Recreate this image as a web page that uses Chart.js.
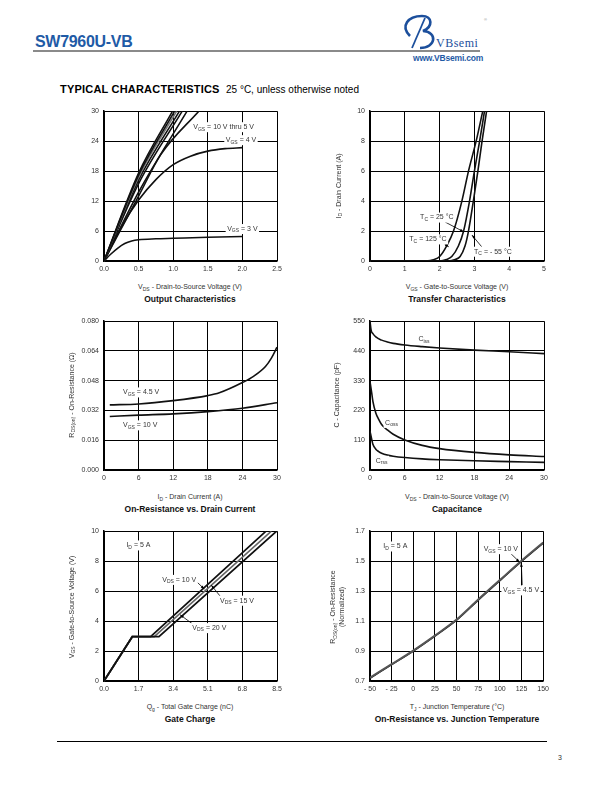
<!DOCTYPE html>
<html>
<head>
<meta charset="utf-8">
<script src="https://cdn.jsdelivr.net/npm/chart.js@4.4.0/dist/chart.umd.min.js"></script>
<style>
body{margin:0;width:612px;height:792px;position:relative;background:#fff;font-family:"Liberation Sans",Arial,sans-serif;overflow:hidden;}
canvas{position:absolute;}
.t{position:absolute;white-space:nowrap;}
.xt{position:absolute;font-size:7px;color:#333;text-align:center;width:220px;line-height:8px;}
.ct{position:absolute;font-size:8.5px;font-weight:bold;text-align:center;width:240px;line-height:10px;color:#111;}
.yt{position:absolute;font-size:7px;color:#333;white-space:nowrap;line-height:9px;text-align:center;transform:translate(-50%,-50%) rotate(-90deg);}
sub{font-size:5px;vertical-align:-1.5px;line-height:0;}
</style>
</head>
<body>

<!-- header -->
<div class="t" style="left:35px;top:33px;font-size:16px;font-weight:bold;color:#1f5ba6;letter-spacing:-0.3px;">SW7960U-VB</div>
<div style="position:absolute;left:33px;top:50px;width:447px;height:2px;background:#8a8a8a;"></div>
<svg style="position:absolute;left:400px;top:12px;" width="92" height="42">
  <path d="M10 24 C0 14 8 4 22 4 C33 4 33 15 23 19 C38 20 36 36 20 36" fill="none" stroke="#1c4f9c" stroke-width="2.6"/>
  <path d="M12 36 L25 6" fill="none" stroke="#1c4f9c" stroke-width="1.8"/>
  <text x="36" y="35" font-family="Liberation Serif, serif" font-size="12" fill="#1c4f9c" letter-spacing="0.5">VBsemi</text>
  <text x="84" y="9" font-family="Liberation Sans" font-size="4" fill="#888">®</text>
</svg>
<div class="t" style="left:413px;top:53px;font-size:8.5px;font-weight:bold;color:#1f5ba6;letter-spacing:-0.2px;">www.VBsemi.com</div>

<div class="t" style="left:60px;top:83px;font-size:11px;font-weight:900;color:#000;letter-spacing:0.2px;">TYPICAL CHARACTERISTICS</div>
<div class="t" style="left:226px;top:84px;font-size:10px;color:#000;">25 °C, unless otherwise noted</div>

<!-- charts -->
<canvas id="c1" width="212" height="175" style="left:74px;top:102px;"></canvas>
<canvas id="c2" width="213" height="175" style="left:340px;top:102px;"></canvas>
<canvas id="c3" width="212" height="174" style="left:74px;top:312px;"></canvas>
<canvas id="c4" width="213" height="174" style="left:340px;top:312px;"></canvas>
<canvas id="c5" width="212" height="175" style="left:74px;top:522px;"></canvas>
<canvas id="c6" width="213" height="175" style="left:340px;top:522px;"></canvas>

<!-- axis titles -->
<div class="xt" style="left:80px;top:283px;">V<sub>DS</sub> - Drain-to-Source Voltage (V)</div>
<div class="ct" style="left:70px;top:294px;">Output Characteristics</div>

<div class="yt" style="left:338px;top:186px;">I<sub>D</sub> - Drain Current (A)</div>
<div class="xt" style="left:347px;top:283px;">V<sub>GS</sub> - Gate-to-Source Voltage (V)</div>
<div class="ct" style="left:337px;top:294px;">Transfer Characteristics</div>

<div class="yt" style="left:71px;top:395px;">R<sub>DS(on)</sub> - On-Resistance (Ω)</div>
<div class="xt" style="left:80px;top:493px;">I<sub>D</sub> - Drain Current (A)</div>
<div class="ct" style="left:70px;top:504px;">On-Resistance vs. Drain Current</div>

<div class="yt" style="left:336px;top:395px;">C - Capacitance (pF)</div>
<div class="xt" style="left:347px;top:493px;">V<sub>DS</sub> - Drain-to-Source Voltage (V)</div>
<div class="ct" style="left:337px;top:504px;">Capacitance</div>

<div class="yt" style="left:71px;top:607px;">V<sub>GS</sub> - Gate-to-Source Voltage (V)</div>
<div class="xt" style="left:80px;top:703px;">Q<sub>g</sub> - Total Gate Charge (nC)</div>
<div class="ct" style="left:70px;top:714px;">Gate Charge</div>

<div class="yt" style="left:337px;top:607px;">R<sub>DS(on)</sub> - On-Resistance<br>(Normalized)</div>
<div class="xt" style="left:347px;top:703px;">T<sub>J</sub> - Junction Temperature (°C)</div>
<div class="ct" style="left:337px;top:714px;">On-Resistance vs. Junction Temperature</div>

<!-- footer -->
<div style="position:absolute;left:57px;top:741px;width:490px;height:1px;background:#000;"></div>
<div class="t" style="left:558px;top:754px;font-size:7px;color:#333;">3</div>

<script>
// ---- Output characteristics (ID vs VDS) ----
var outXTicks = [0, 0.5, 1, 1.5, 2, 2.5];
var outXLabels = ['0.0', '0.5', '1.0', '1.5', '2.0', '2.5'];
var outYTicks = [0, 6, 12, 18, 24, 30];
var outYLabels = ['0', '6', '12', '18', '24', '30'];
var out10V = { x: [0, 0.5, 0.99], y: [0, 17.6, 30] };
var out8V = { x: [0, 0.5, 1.02], y: [0, 17.2, 30] };
var out7V = { x: [0, 0.5, 1.05], y: [0, 16.8, 30] };
var out6V = { x: [0, 0.5, 1.09], y: [0, 16.2, 30] };
var out5V = { x: [0, 0.5, 1.13], y: [0, 15.5, 30] };
var out45V = { x: [0, 0.5, 1.2], y: [0, 13.8, 30] };
var out42V = { x: [0, 0.5, 0.82, 1.37], y: [0, 13.0, 21.3, 30] };
var out4V = { x: [0, 0.25, 0.5, 0.75, 1.0, 1.25, 1.5, 1.75, 2.0], y: [0, 6.8, 12.2, 16.3, 19.3, 21.0, 22.0, 22.5, 22.7] };
var out3V = { x: [0, 0.1, 0.2, 0.3, 0.4, 0.5, 0.75, 1.0, 1.5, 2.0], y: [0, 1.4, 2.6, 3.5, 4.0, 4.25, 4.45, 4.55, 4.75, 4.9] };

// ---- Transfer characteristics (ID vs VGS) ----
var trXTicks = [0, 1, 2, 3, 4, 5];
var trXLabels = ['0', '1', '2', '3', '4', '5'];
var trYTicks = [0, 2, 4, 6, 8, 10];
var trYLabels = ['0', '2', '4', '6', '8', '10'];
var tr125 = { x: [0, 1.6, 1.85, 2.0, 2.2, 2.4, 2.64, 2.83, 3.05, 3.24], y: [0, 0, 0.1, 0.3, 1.0, 2.0, 4.0, 6.0, 8.0, 10] };
var tr25 = { x: [0, 2.0, 2.2, 2.35, 2.54, 2.69, 2.86, 3.0, 3.15, 3.29], y: [0, 0, 0.1, 0.3, 1.0, 2.0, 4.0, 6.0, 8.0, 10] };
var trM55 = { x: [0, 2.25, 2.45, 2.59, 2.73, 2.83, 2.97, 3.1, 3.22, 3.35], y: [0, 0, 0.1, 0.3, 1.0, 2.0, 4.0, 6.0, 8.0, 10] };

// ---- On-resistance vs drain current ----
var rdXTicks = [0, 6, 12, 18, 24, 30];
var rdXLabels = ['0', '6', '12', '18', '24', '30'];
var rdYTicks = [0, 0.016, 0.032, 0.048, 0.064, 0.080];
var rdYLabels = ['0.000', '0.016', '0.032', '0.048', '0.064', '0.080'];
var rd45 = { x: [1, 6, 12, 18, 20, 24, 26, 28, 29, 30], y: [0.0350, 0.0355, 0.0373, 0.0400, 0.0415, 0.0470, 0.0505, 0.0556, 0.0600, 0.0660] };
var rd10 = { x: [1, 6, 12, 18, 24, 30], y: [0.0288, 0.0295, 0.0302, 0.0314, 0.0332, 0.0362] };

// ---- Capacitance ----
var capXTicks = [0, 6, 12, 18, 24, 30];
var capXLabels = ['0', '6', '12', '18', '24', '30'];
var capYTicks = [0, 110, 220, 330, 440, 550];
var capYLabels = ['0', '110', '220', '330', '440', '550'];
var ciss = { x: [0, 0.2, 0.5, 1, 2, 3, 4, 6, 9, 12, 18, 24, 30], y: [550, 516, 504, 492, 480, 473, 468, 462, 456, 451, 443, 437, 430] };
var coss = { x: [0, 0.3, 0.5, 1, 1.5, 2, 3, 4, 6, 9, 12, 18, 24, 30], y: [327, 284, 254, 211, 187, 168, 148, 132, 111, 91, 79, 65, 56, 50] };
var crss = { x: [0, 0.3, 0.5, 1, 1.5, 2, 3, 4, 6, 9, 12, 18, 24, 30], y: [144, 113, 95, 77, 68, 62, 55, 51, 46, 41, 38, 34, 31, 28] };

// ---- Gate charge ----
var qgXTicks = [0, 1.7, 3.4, 5.1, 6.8, 8.5];
var qgXLabels = ['0.0', '1.7', '3.4', '5.1', '6.8', '8.5'];
var qgYTicks = [0, 2, 4, 6, 8, 10];
var qgYLabels = ['0', '2', '4', '6', '8', '10'];
var qg10 = { x: [0, 1.39, 2.29, 7.96], y: [0, 2.96, 2.96, 10] };
var qg15 = { x: [0, 1.39, 2.47, 8.22], y: [0, 2.96, 2.96, 10] };
var qg20 = { x: [0, 1.39, 2.70, 8.48], y: [0, 2.96, 2.96, 10] };

// ---- On-resistance vs junction temperature ----
var tjXTicks = [-50, -25, 0, 25, 50, 75, 100, 125, 150];
var tjXLabels = ['- 50', '- 25', '0', '25', '50', '75', '100', '125', '150'];
var tjYTicks = [0.7, 0.9, 1.1, 1.3, 1.5, 1.7];
var tjYLabels = ['0.7', '0.9', '1.1', '1.3', '1.5', '1.7'];
var tj10 = { x: [-50, -25, 0, 25, 50, 75, 100, 125, 150], y: [0.718, 0.809, 0.900, 1.000, 1.106, 1.240, 1.370, 1.498, 1.620] };
var tj45 = { x: [-50, -25, 0, 25, 50, 75, 100, 125, 150], y: [0.722, 0.812, 0.903, 1.003, 1.110, 1.244, 1.374, 1.503, 1.625] };

var FONT = '"Liberation Sans", Arial, sans-serif';

function pts(s) {
    var a = [];
    for (var i = 0; i < s.x.length; i++) a.push({ x: s.x[i], y: s.y[i] });
    return a;
}

function line(s, color, width, straight) {
    return {
        data: pts(s),
        borderColor: color || '#111',
        borderWidth: width || 1.6,
        pointRadius: 0,
        tension: straight ? 0 : 0.4,
        cubicInterpolationMode: straight ? 'default' : 'monotone',
        fill: false
    };
}

// text pieces like [['V'], ['GS', 1], [' = 10 V']]  (1 = subscript)
function drawRich(ctx, parts, x, y) {
    var w = 0, i;
    for (i = 0; i < parts.length; i++) {
        ctx.font = (parts[i][1] ? '5px ' : '7px ') + FONT;
        w += ctx.measureText(parts[i][0]).width;
    }
    ctx.fillStyle = '#fff';
    ctx.fillRect(x - 1.5, y - 5, w + 3, 10);
    ctx.fillStyle = '#333';
    ctx.textBaseline = 'middle';
    ctx.textAlign = 'left';
    var cx = x;
    for (i = 0; i < parts.length; i++) {
        ctx.font = (parts[i][1] ? '5px ' : '7px ') + FONT;
        ctx.fillText(parts[i][0], cx, parts[i][1] ? y + 2 : y);
        cx += ctx.measureText(parts[i][0]).width;
    }
}

function notesPlugin(notes, arrows) {
    return {
        id: 'notes',
        afterDatasetsDraw: function(chart) {
            var ctx = chart.ctx, xs = chart.scales.x, ys = chart.scales.y;
            ctx.save();
            //arrows first so the label boxes sit on top
            (arrows || []).forEach(function(a) {
                var x1 = xs.getPixelForValue(a[0]), y1 = ys.getPixelForValue(a[1]);
                var x2 = xs.getPixelForValue(a[2]), y2 = ys.getPixelForValue(a[3]);
                ctx.strokeStyle = '#000';
                ctx.lineWidth = 0.8;
                ctx.beginPath();
                ctx.moveTo(x1, y1);
                ctx.lineTo(x2, y2);
                ctx.stroke();
                var ang = Math.atan2(y2 - y1, x2 - x1);
                ctx.fillStyle = '#000';
                ctx.beginPath();
                ctx.moveTo(x2, y2);
                ctx.lineTo(x2 - 4 * Math.cos(ang - 0.35), y2 - 4 * Math.sin(ang - 0.35));
                ctx.lineTo(x2 - 4 * Math.cos(ang + 0.35), y2 - 4 * Math.sin(ang + 0.35));
                ctx.closePath();
                ctx.fill();
            });
            (notes || []).forEach(function(n) {
                drawRich(ctx, n.parts, xs.getPixelForValue(n.x), ys.getPixelForValue(n.y));
            });
            ctx.restore();
        }
    };
}

function makeChart(id, o) {
    var ctx = document.getElementById(id).getContext('2d');
    var tickFont = { size: 7, family: FONT };
    return new Chart(ctx, {
        type: 'line',
        data: { datasets: o.datasets },
        options: {
            responsive: false,
            animation: false,
            events: [],
            layout: { padding: { top: 2, right: 9, left: 0, bottom: 0 } },
            plugins: { legend: { display: false }, tooltip: { enabled: false } },
            scales: {
                x: {
                    type: 'linear',
                    min: o.xTicks[0],
                    max: o.xTicks[o.xTicks.length - 1],
                    afterBuildTicks: function(a) { a.ticks = o.xTicks.map(function(v) { return { value: v }; }); },
                    afterFit: function(a) { a.height = 16; },
                    ticks: {
                        autoSkip: false, maxRotation: 0, padding: 4, color: '#333', font: tickFont,
                        callback: function(v, i) { return o.xLabels[i]; }
                    },
                    grid: { color: '#000', lineWidth: 1, drawTicks: false },
                    border: { color: '#000', width: 1.5 }
                },
                y: {
                    type: 'linear',
                    min: o.yTicks[0],
                    max: o.yTicks[o.yTicks.length - 1],
                    afterBuildTicks: function(a) { a.ticks = o.yTicks.map(function(v) { return { value: v }; }); },
                    afterFit: function(a) { a.width = 30; },
                    ticks: {
                        autoSkip: false, padding: 5, color: '#333', font: tickFont,
                        callback: function(v, i) { return o.yLabels[i]; }
                    },
                    grid: { color: '#000', lineWidth: 1, drawTicks: false },
                    border: { color: '#000', width: 1.5 }
                }
            }
        },
        plugins: [notesPlugin(o.notes, o.arrows)]
    });
}

var GS = [['V'], ['GS', 1]];
var DS = [['V'], ['DS', 1]];

makeChart('c1', {
    xTicks: outXTicks, xLabels: outXLabels, yTicks: outYTicks, yLabels: outYLabels,
    datasets: [line(out10V), line(out8V), line(out7V, '#777'), line(out6V), line(out5V),
               line(out45V), line(out42V), line(out4V), line(out3V)],
    notes: [
        { x: 1.29, y: 26.8, parts: GS.concat([[' = 10 V thru 5 V']]) },
        { x: 1.76, y: 24.2, parts: GS.concat([[' = 4 V']]) },
        { x: 1.78, y: 6.4, parts: GS.concat([[' = 3 V']]) }
    ]
});

makeChart('c2', {
    xTicks: trXTicks, xLabels: trXLabels, yTicks: trYTicks, yLabels: trYLabels,
    datasets: [line(tr125), line(tr25), line(trM55)],
    notes: [
        { x: 1.44, y: 2.9, parts: [['T'], ['C', 1], [' = 25 °C']] },
        { x: 1.13, y: 1.44, parts: [['T'], ['C', 1], [' = 125 °C']] },
        { x: 2.99, y: 0.62, parts: [['T'], ['C', 1], [' = - 55 °C']] }
    ],
    arrows: [[2.16, 2.6, 2.69, 1.95], [2.06, 1.29, 2.26, 0.95], [3.21, 0.95, 2.93, 1.73]]
});

makeChart('c3', {
    xTicks: rdXTicks, xLabels: rdXLabels, yTicks: rdYTicks, yLabels: rdYLabels,
    datasets: [line(rd45), line(rd10)],
    notes: [
        { x: 3.3, y: 0.0417, parts: GS.concat([[' = 4.5 V']]) },
        { x: 3.3, y: 0.0240, parts: GS.concat([[' = 10 V']]) }
    ]
});

makeChart('c4', {
    xTicks: capXTicks, xLabels: capXLabels, yTicks: capYTicks, yLabels: capYLabels,
    datasets: [line(ciss), line(coss), line(crss)],
    notes: [
        { x: 8.35, y: 483, parts: [['C'], ['iss', 1]] },
        { x: 2.6, y: 174, parts: [['C'], ['oss', 1]] },
        { x: 1.0, y: 34, parts: [['C'], ['rss', 1]] }
    ]
});

makeChart('c5', {
    xTicks: qgXTicks, xLabels: qgXLabels, yTicks: qgYTicks, yLabels: qgYLabels,
    datasets: [line(qg20, '#111', 1.8, true), line(qg15, '#666', 1.6, true), line(qg10, '#111', 1.8, true)],
    notes: [
        { x: 1.1, y: 9.05, parts: [['I'], ['D', 1], [' = 5 A']] },
        { x: 2.86, y: 6.75, parts: DS.concat([[' = 10 V']]) },
        { x: 5.7, y: 5.36, parts: DS.concat([[' = 15 V']]) },
        { x: 4.34, y: 3.53, parts: DS.concat([[' = 20 V']]) }
    ],
    arrows: [[4.59, 6.58, 4.93, 6.14], [5.78, 5.54, 5.27, 6.4], [4.34, 3.82, 3.74, 4.42]]
});

makeChart('c6', {
    xTicks: tjXTicks, xLabels: tjXLabels, yTicks: tjYTicks, yLabels: tjYLabels,
    datasets: [line(tj45, '#555', 2.0), line(tj10, '#111', 1.5)],
    notes: [
        { x: -34.6, y: 1.598, parts: [['I'], ['D', 1], [' = 5 A']] },
        { x: 81.3, y: 1.58, parts: GS.concat([[' = 10 V']]) },
        { x: 103.5, y: 1.305, parts: GS.concat([[' = 4.5 V']]) }
    ],
    arrows: [[111, 1.56, 122.7, 1.494], [125.8, 1.339, 124.7, 1.488]]
});
</script>
</body>
</html>
